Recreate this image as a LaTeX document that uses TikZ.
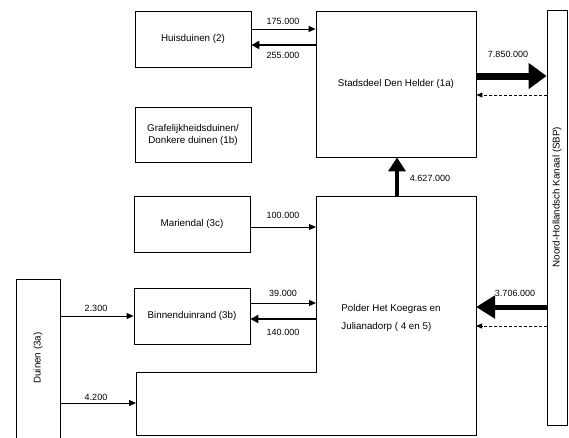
\documentclass[tikz,border=0pt]{standalone}
\usepackage{fontspec}
\setmainfont{Liberation Sans}
\usetikzlibrary{arrows.meta}
\begin{document}
\begin{tikzpicture}[x=1pt,y=-1pt,
  box/.style={draw, line width=0.8pt, inner sep=0pt, align=center, font=\fontsize{9.8}{12}\selectfont},
  lbl/.style={inner sep=0pt, font=\fontsize{9}{11}\selectfont},
  thinarr/.style={line width=1pt, -{Triangle[length=7pt,width=6pt]}},
  medarr/.style={line width=2pt, -{Triangle[length=8pt,width=8pt]}},
  bigarr/.style={line width=4pt, -{Triangle[length=14pt,width=17pt]}},
  largearr/.style={line width=5pt, -{Triangle[length=19pt,width=22pt]}},
  hugearr/.style={line width=7pt, -{Triangle[length=18pt,width=25pt]}},
  dasharr/.style={line width=1pt, dash pattern=on 3pt off 2pt, -{Triangle[length=6pt,width=5pt]}}]
\useasboundingbox (0,0) rectangle (569,437);
% boxes
\node[box, minimum width=116, minimum height=56] (hd) at (193,39) {Huisduinen (2)};
\node[box, minimum width=116, minimum height=55] (gd) at (193,134.5) {Grafelijkheidsduinen/\\Donkere duinen (1b)};
\node[box, minimum width=160, minimum height=146] (sd) at (396,84) {Stadsdeel Den Helder (1a)};
\node[box, minimum width=116, minimum height=56] (md) at (192,224) {Mariendal (3c)};
\node[box, minimum width=116, minimum height=56] (bd) at (192,316) {Binnenduinrand (3b)};
% Duinen (open at bottom)
\coordinate (du-tl) at (16,279);
\coordinate (du-tr) at (60,279);
\draw[line width=0.8pt] (16,440) -- (du-tl) -- (du-tr) -- (60,440);
\node[lbl, rotate=90, font=\fontsize{9.8}{12}\selectfont] (du) at (38,358) {Duinen (3a)};
% Canal
\node[draw, line width=0.8pt, minimum width=20, minimum height=415, inner sep=0pt] (nk) at (557,217.5) {};
\node[lbl, rotate=90, font=\fontsize{9.8}{12}\selectfont] (nkt) at (557,197) {Noord-Hollandsch Kanaal (SBP)};
% Polder shape
\coordinate (p1) at (316,196);
\coordinate (p2) at (476,196);
\coordinate (p3) at (476,435);
\coordinate (p4) at (136,435);
\coordinate (p5) at (136,372);
\coordinate (p6) at (316,372);
\draw[line width=0.8pt] (p1) -- (p2) -- (p3) -- (p4) -- (p5) -- (p6) -- cycle;
\node[inner sep=0pt, align=left, font=\fontsize{9.8}{18}\selectfont] (pol) at (391,318) {Polder Het Koegras en\\Julianadorp ( 4 en 5)};
% arrows
\draw[thinarr] ([yshift=10pt]hd.east) -- ([yshift=10pt]hd.east -| sd.west);
\draw[medarr] ([yshift=-6pt]hd.east -| sd.west) -- ([yshift=-6pt]hd.east);
\draw[hugearr] ([yshift=8pt]sd.east) -- ([yshift=8pt]sd.east -| nk.west);
\draw[dasharr] ([yshift=-11pt]sd.east -| nk.west) -- ([yshift=-11pt]sd.east);
\coordinate (up) at (397,196);
\draw[bigarr] (up) -- (up |- sd.south);
\draw[thinarr] ([yshift=-3pt]md.east) -- ([yshift=-3pt]md.east -| p1);
\draw[thinarr] ([yshift=13pt]bd.east) -- ([yshift=13pt]bd.east -| p1);
\draw[medarr] ([yshift=-3pt]bd.east -| p1) -- ([yshift=-3pt]bd.east);
\draw[thinarr] (du-tr |- bd.west) -- (bd.west);
\coordinate (d42) at (60,403);
\draw[thinarr] (d42) -- (d42 -| p4);
\coordinate (c37) at (547,307);
\draw[largearr] (c37) -- (c37 -| p2);
\coordinate (c38) at (547,326);
\draw[dasharr] (c38) -- (c38 -| p2);
% labels
\node[lbl] (l1) at (283,21) {175.000};
\node[lbl] (l2) at (283,55) {255.000};
\node[lbl] (l3) at (508,54) {7.850.000};
\node[lbl] (l4) at (430,178) {4.627.000};
\node[lbl] (l5) at (283,215) {100.000};
\node[lbl] (l6) at (283,293) {39.000};
\node[lbl] (l7) at (283,332) {140.000};
\node[lbl] (l8) at (96,308) {2.300};
\node[lbl] (l9) at (96,397) {4.200};
\node[lbl] (l10) at (515,293) {3.706.000};
\end{tikzpicture}
\end{document}
